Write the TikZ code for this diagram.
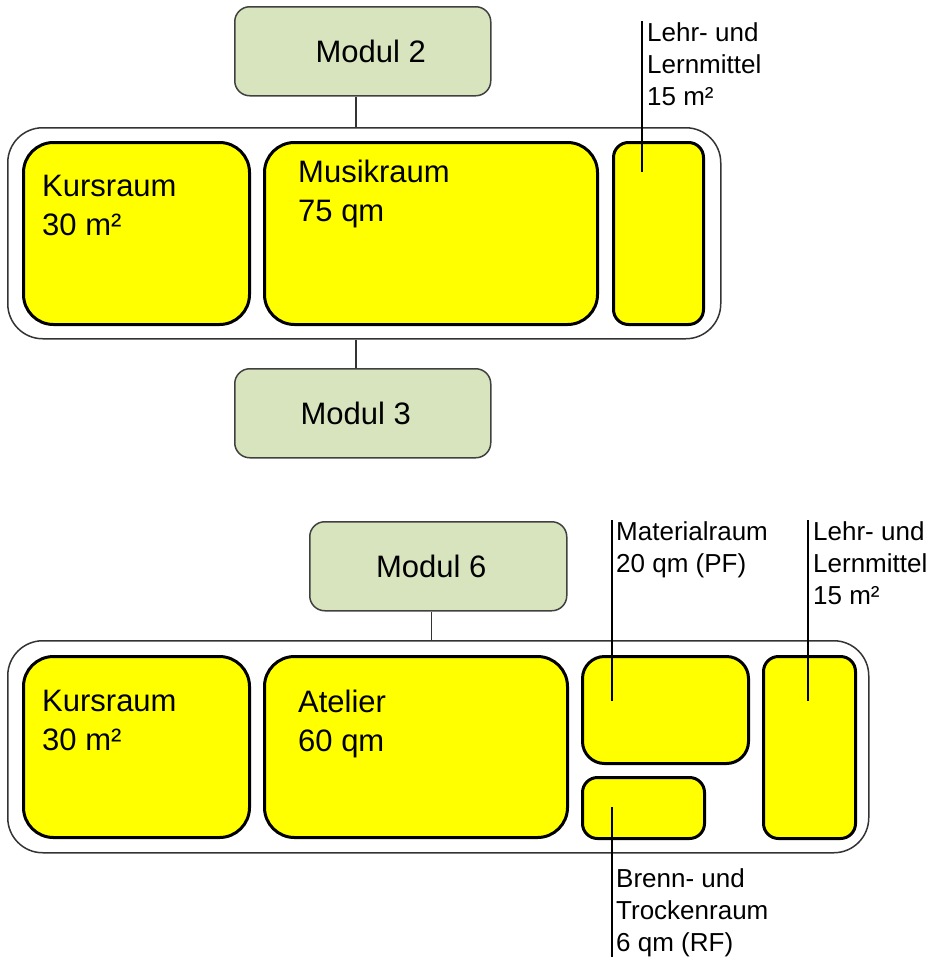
\documentclass[tikz,border=0pt]{standalone}
\usepackage{fontspec}
\setmainfont{Liberation Sans}
\usetikzlibrary{calc}
\definecolor{modgreen}{HTML}{D7E4BD}
\definecolor{roomyellow}{HTML}{FFFF00}
\begin{document}
\begin{tikzpicture}[x=1pt,y=-1pt,
  room/.style={draw=black, line width=3pt, fill=roomyellow, inner sep=0pt, anchor=north west},
  modul/.style={draw=black!75, line width=1.5pt, fill=modgreen, rounded corners=15pt, inner sep=0pt, anchor=north west, font=\fontsize{31}{38}\selectfont},
  group/.style={draw=black!80, line width=1.5pt, rounded corners=35pt, inner sep=0pt, anchor=north west},
  bigtxt/.style={anchor=north west, inner sep=0pt, align=left, font=\fontsize{31}{38.5}\selectfont},
  smalltxt/.style={anchor=north west, inner sep=0pt, align=left, font=\fontsize{26}{32}\selectfont},
  conn/.style={draw=black!80, line width=1.5pt},
  pointer/.style={draw=black, line width=2pt}]
\useasboundingbox (0,0) rectangle (931,959);

% ---------- top group ----------
\node[modul, minimum width=256pt, minimum height=89pt] (m2) at (234,6) {\hspace*{16pt}Modul 2};
\node[group, minimum width=713pt, minimum height=211pt] (g1) at (7,127) {};
\node[room, rounded corners=30pt, minimum width=226pt, minimum height=182pt] (k1) at (22,141) {};
\node[room, rounded corners=30pt, minimum width=333pt, minimum height=182pt] (mu) at (263,141) {};
\node[room, rounded corners=15pt, minimum width=90pt, minimum height=182pt] (l1) at (612,141) {};
\node[modul, minimum width=256pt, minimum height=89pt] (m3) at (234,368) {Modul 3\hspace*{14pt}};

\node[bigtxt] (k1t) at ($(k1.north west)+(20,34)$) {Kursraum\\30 m²};
\node[bigtxt] (mut) at ($(mu.north west)+(35,19)$) {Musikraum\\75 qm};
\node[smalltxt] (l1t) at (647,22.5) {Lehr- und\\Lernmittel\\15 m²};

\coordinate (l1top) at (642,21);
\coordinate (l1p) at ($(l1.north west)+(30,31)$);
\draw[pointer] (l1top) -- (l1p);

\coordinate (m2c) at ($(m2.south)+(-7,0)$);
\draw[conn] (m2c) -- (m2c |- g1.north);
\coordinate (m3c) at ($(m3.north)+(-7,0)$);
\draw[conn] (g1.south -| m3c) -- (m3c);

% ---------- bottom group ----------
\node[modul, minimum width=257pt, minimum height=89pt] (m6) at (309,521) {Modul 6\hspace*{14pt}};
\node[group, minimum width=861pt, minimum height=212pt] (g2) at (7,640) {};
\node[room, rounded corners=30pt, minimum width=226pt, minimum height=181pt] (k2) at (22,655) {};
\node[room, rounded corners=30pt, minimum width=303pt, minimum height=181pt] (at) at (263,655) {};
\node[room, rounded corners=22pt, minimum width=166pt, minimum height=107pt] (ma) at (581,655) {};
\node[room, rounded corners=15pt, minimum width=122pt, minimum height=61pt] (br) at (581,776) {};
\node[room, rounded corners=15pt, minimum width=92pt, minimum height=182pt] (l2) at (762,655) {};

\node[bigtxt] (k2t) at ($(k2.north west)+(20,35)$) {Kursraum\\30 m²};
\node[bigtxt] (att) at ($(at.north west)+(35,35)$) {Atelier\\60 qm};
\node[smalltxt] (mat) at (616,521.5) {Materialraum\\20 qm (PF)};
\node[smalltxt] (l2t) at (813,521.5) {Lehr- und\\Lernmittel\\15 m²};
\node[smalltxt] (brt) at (616,868.5) {Brenn- und\\Trockenraum\\6 qm (RF)};

\coordinate (m6c) at ($(m6.south)+(-7,0)$);
\draw[conn] (m6c) -- (m6c |- g2.north);

\coordinate (matop) at (612,520);
\coordinate (map) at ($(ma.north west)+(31,46)$);
\draw[pointer] (matop) -- (map);
\coordinate (l2top) at (808,520);
\coordinate (l2p) at ($(l2.north west)+(46,46)$);
\draw[pointer] (l2top) -- (l2p);
\coordinate (brp) at ($(br.north west)+(31,31)$);
\coordinate (brbot) at (612,957);
\draw[pointer] (brp) -- (brbot);
\end{tikzpicture}
\end{document}
